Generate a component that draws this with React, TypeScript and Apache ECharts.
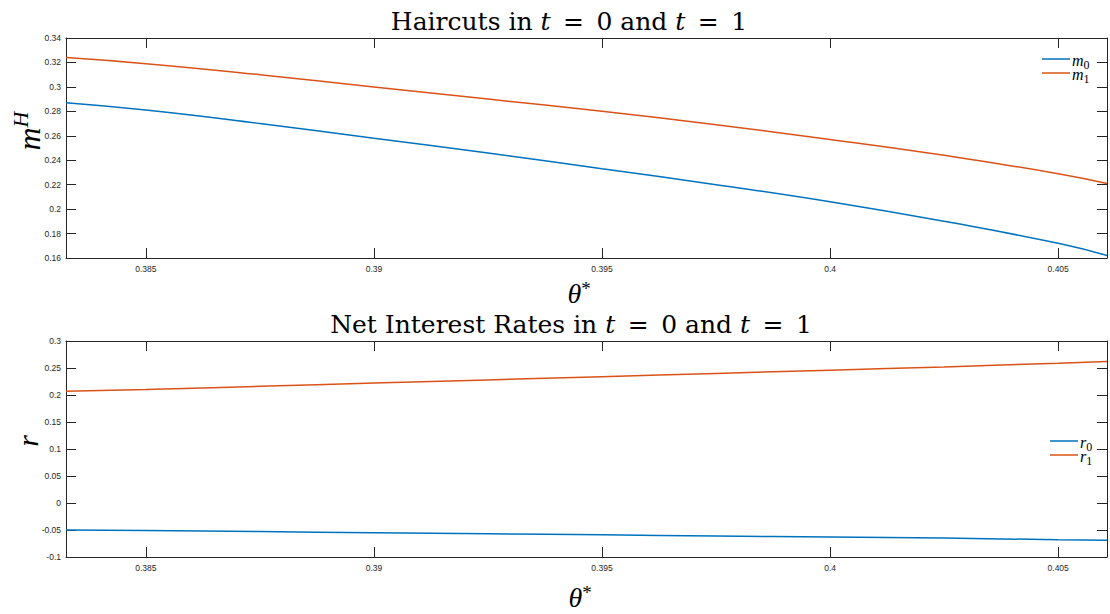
import React, { useEffect, useRef } from "react";
import * as echarts from "echarts";

const theta = [0.38325, 0.385, 0.3875, 0.39, 0.3925, 0.395, 0.3975, 0.4, 0.4025, 0.405, 0.40607];
const m0 = [0.287, 0.281, 0.270, 0.258, 0.246, 0.233, 0.220, 0.206, 0.190, 0.172, 0.162];
const m1 = [0.324, 0.319, 0.310, 0.300, 0.290, 0.280, 0.269, 0.257, 0.244, 0.229, 0.221];
const r0 = [-0.050, -0.051, -0.053, -0.055, -0.057, -0.059, -0.061, -0.063, -0.065, -0.068, -0.069];
const r1 = [0.207, 0.210, 0.216, 0.222, 0.228, 0.234, 0.240, 0.246, 0.252, 0.259, 0.262];
const xTicks = [0.385, 0.39, 0.395, 0.4, 0.405];

const BLUE = "#0072BD";
const ORANGE = "#D95319";
const AX = "#262626";
const SERIF = "'Liberation Serif', 'DejaVu Serif', serif";
const TSERIF = "'DejaVu Serif', serif";
const SANS = "'Liberation Sans', Arial, sans-serif";

const pairs = (ys: number[]) => theta.map((x, i) => [x, ys[i]]);
const fmt = (v: number) => String(parseFloat(v.toFixed(4)));

function xAxis(gridIndex: number, top: boolean) {
  return {
    type: "value",
    gridIndex,
    position: top ? "top" : "bottom",
    min: theta[0],
    max: theta[theta.length - 1],
    axisLine: { show: true, onZero: false, lineStyle: { color: AX, width: 1 } },
    axisTick: { show: true, inside: true, length: 10, customValues: xTicks, lineStyle: { color: AX } },
    axisLabel: {
      show: !top,
      customValues: xTicks,
      formatter: (v: number) => fmt(v),
      color: AX,
      fontSize: 8.5,
      fontFamily: SANS,
      margin: 6,
    },
    splitLine: { show: false },
  };
}

function yAxis(gridIndex: number, right: boolean, min: number, max: number, interval: number) {
  return {
    type: "value",
    gridIndex,
    position: right ? "right" : "left",
    min,
    max,
    interval,
    axisLine: { show: true, onZero: false, lineStyle: { color: AX, width: 1 } },
    axisTick: { show: true, inside: true, length: 10, lineStyle: { color: AX } },
    axisLabel: {
      show: !right,
      formatter: (v: number) => fmt(v),
      color: AX,
      fontSize: 8.5,
      fontFamily: SANS,
      margin: 5,
    },
    splitLine: { show: false },
  };
}

const richMath = {
  n: { fontFamily: TSERIF, fontSize: 25, color: "#000" },
  i: { fontFamily: TSERIF, fontSize: 25, fontStyle: "italic", color: "#000" },
};

const legendRich = {
  i: { fontFamily: SERIF, fontSize: 16, fontStyle: "italic", color: "#000", lineHeight: 14, verticalAlign: "top" },
  s: { fontFamily: SERIF, fontSize: 12, color: "#000", lineHeight: 14, verticalAlign: "top", padding: [7, 0, 0, 0] },
};

const thetaRich = {
  i: { fontFamily: SERIF, fontSize: 28, fontStyle: "italic", color: "#000" },
  s: { fontFamily: SERIF, fontSize: 19, color: "#000", verticalAlign: "top" },
};

const SP = "\u2002";

export default function App() {
  const ref = useRef<HTMLDivElement>(null);
  useEffect(() => {
    if (!ref.current) return;
    const chart = echarts.init(ref.current, null, { renderer: "svg" });
    const series = [
      { name: "m0", data: pairs(m0), color: BLUE, g: 0 },
      { name: "m1", data: pairs(m1), color: ORANGE, g: 0 },
      { name: "r0", data: pairs(r0), color: BLUE, g: 1 },
      { name: "r1", data: pairs(r1), color: ORANGE, g: 1 },
    ].map((s) => ({
      type: "line",
      name: s.name,
      data: s.data,
      xAxisIndex: s.g * 2,
      yAxisIndex: s.g * 2,
      showSymbol: false,
      smooth: true,
      lineStyle: { color: s.color, width: 1.5 },
      itemStyle: { color: s.color },
    }));
    const legendFmt = (name: string) => `{i|${name[0]}}{s|${name[1]}}`;
    const legendBase = {
      orient: "vertical",
      icon: "rect",
      itemWidth: 28,
      itemHeight: 1.5,
      itemGap: -5,
      formatter: legendFmt,
      textStyle: { rich: legendRich, padding: [0, 0, 0, -3] },
    };
    const eq = `{i|t}{n|${SP}=${SP}`;
    chart.setOption({
      animation: false,
      backgroundColor: "#fff",
      grid: [
        { left: 66, top: 38, width: 1041, height: 220 },
        { left: 66, top: 341, width: 1041, height: 216 },
      ],
      xAxis: [xAxis(0, false), xAxis(0, true), xAxis(1, false), xAxis(1, true)],
      yAxis: [
        yAxis(0, false, 0.16, 0.34, 0.02),
        yAxis(0, true, 0.16, 0.34, 0.02),
        yAxis(1, false, -0.1, 0.3, 0.05),
        yAxis(1, true, -0.1, 0.3, 0.05),
      ],
      legend: [
        { ...legendBase, data: ["m0", "m1"], left: 1037, top: 47 },
        { ...legendBase, data: ["r0", "r1"], left: 1045, top: 429 },
      ],
      graphic: [
        {
          type: "text",
          x: 569,
          y: 21,
          style: {
            text: `{n|Haircuts in }${eq}0 and }${eq}1}`,
            rich: richMath,
            align: "center",
            verticalAlign: "middle",
          },
        },
        {
          type: "text",
          x: 571,
          y: 324,
          style: {
            text: `{n|Net Interest Rates in }${eq}0 and }${eq}1}`,
            rich: richMath,
            align: "center",
            verticalAlign: "middle",
          },
        },
        {
          type: "text",
          x: 579,
          y: 293,
          style: { text: "{i|θ}{s|*}", rich: thetaRich, align: "center", verticalAlign: "middle" },
        },
        {
          type: "text",
          x: 580,
          y: 597,
          style: { text: "{i|θ}{s|*}", rich: thetaRich, align: "center", verticalAlign: "middle" },
        },
        {
          type: "text",
          x: 29,
          y: 131,
          rotation: Math.PI / 2,
          style: {
            text: "{i|m}{s|H}",
            rich: {
              i: { fontFamily: SERIF, fontSize: 32, fontStyle: "italic", color: "#000", lineHeight: 40 },
              s: { fontFamily: SERIF, fontSize: 22, fontStyle: "italic", color: "#000", verticalAlign: "top", lineHeight: 40 },
            },
            align: "center",
            verticalAlign: "middle",
          },
        },
        {
          type: "text",
          x: 27,
          y: 441,
          rotation: Math.PI / 2,
          style: {
            text: "r",
            fontFamily: SERIF,
            fontSize: 30,
            fontStyle: "italic",
            fill: "#000",
            align: "center",
            verticalAlign: "middle",
          },
        },
      ],
      series,
    });
    return () => chart.dispose();
  }, []);
  return (
    <div
      ref={ref}
      style={{ position: "absolute", left: 0, top: 0, width: 1110, height: 614 }}
    />
  );
}
